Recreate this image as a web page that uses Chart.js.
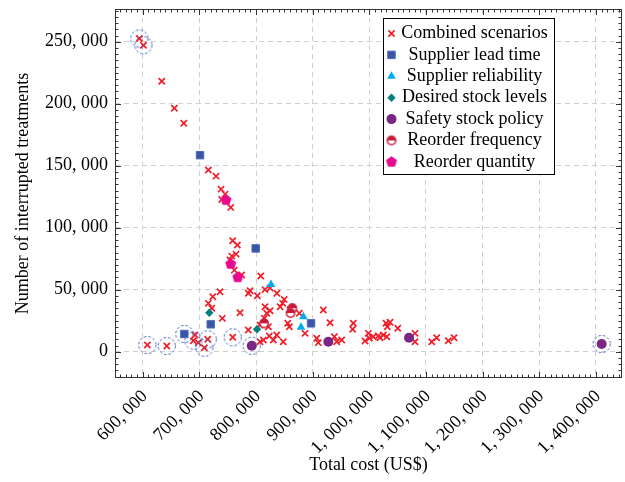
<!DOCTYPE html>
<html>
<head>
<meta charset="utf-8">
<script src="https://cdn.jsdelivr.net/npm/chart.js@4/dist/chart.umd.min.js"></script>
<style>
html,body{margin:0;padding:0;background:#fff;}
canvas{display:block;}
</style>
</head>
<body>
<canvas id="c" width="625" height="482"></canvas>
<script>
// ---------- DATA ----------
const seriesNames = [
  'Combined scenarios', 'Supplier lead time', 'Supplier reliability',
  'Desired stock levels', 'Safety stock policy', 'Reorder frequency', 'Reorder quantity'
];
const xTitle = 'Total cost (US$)';
const yTitle = 'Number of interrupted treatments';

// [total cost, interrupted treatments]
const combinedScenarios = [
  [594000,252600],[601100,247200],[633500,218200],[655800,196400],[672400,184300],
  [715800,146500],[729400,141600],[738200,131100],[745300,127100],[739400,122800],
  [755300,116400],[758800,89500],[767000,86000],[764700,78700],[757100,77100],
  [754100,73900],[761700,65800],[774700,61800],[808300,61000],[736400,48400],
  [723600,44300],[715800,39000],[721800,35000],[740500,26900],[771700,31400],
  [692300,13500],[689300,8900],[698100,7300],[714700,10000],[708700,3200],
  [758800,11600],[608100,5400],[642400,4600],[807000,8100],[823400,12700],
  [830500,9400],[836500,13500],[818900,31000],[815800,36300],[789400,49200],
  [786400,47100],[802300,45100],[815800,50100],[824700,51300],[786300,17500],
  [836800,47100],[849700,42200],[846900,39000],[842600,36300],[824700,33000],
  [860000,33600],[876400,31000],[918700,33600],[930600,23400],[971700,22900],
  [970600,18100],[886500,14800],[855900,22900],[858700,20200],[814600,26900],
  [821700,20200],[812900,9400],[848000,8100],[907100,10800],[909900,7300],
  [938200,12100],[951200,9400],[942400,8100],[992300,8600],[998200,14800],
  [1000000,10800],[1007000,12100],[1015800,12700],[1018800,11300],[1024700,13500],
  [1030700,12100],[1029400,22900],[1036500,23700],[1031700,20200],[1050100,18900],
  [1080600,14800],[1080600,8100],[1110100,8100],[1118900,11300],[1139400,8900],
  [1149400,11300],[807000,21500]
];
const supplierLeadTime = [[701100,158500],[799400,83300],[720000,22100],[673400,14300],[897100,22900]];
const supplierReliability = [[826400,54300],[883500,28200],[879400,19700]];
const desiredStockLevels = [[717500,31400],[801700,18100]];
const safetyStockPolicy = [[792400,4800],[927600,8100],[1070000,11300],[1410100,6200]];
const reorderFrequency = [[814100,22900],[864000,35200],[860900,31200]];
const reorderQuantity = [[747000,122300],[755300,70700],[767700,60000]];
// points surrounded by a dashed circle in the original
const highlighted = [
  [594000,252600],[601100,247200],[608100,5400],[642400,4600],[673400,14300],
  [689300,8900],[714700,10000],[708700,3200],[758800,11600],[792400,4800],[1410100,6200]
];

const xTicks = [600000,700000,800000,900000,1000000,1100000,1200000,1300000,1400000];
const yTicks = [0,50000,100000,150000,200000,250000];

// ---------- STYLE ----------
const FONT = '"Liberation Serif", "Times New Roman", Times, serif';
Chart.defaults.font.family = FONT;
Chart.defaults.font.size = 18;
Chart.defaults.color = '#000';

function toXY(arr){ return arr.map(p => ({x: p[0], y: p[1]})); }
function fmt(v){ return Number(v).toLocaleString('en-US').replace(/,/g, ', '); }

function makeCanvas(size, draw){
  const c = document.createElement('canvas');
  c.width = size; c.height = size;
  draw(c.getContext('2d'), size/2);
  return c;
}
const halfCircleMark = makeCanvas(12, (g, c) => {
  const col = 'rgb(200,28,58)';
  g.lineWidth = 1.5; g.strokeStyle = col; g.fillStyle = '#fff';
  g.beginPath(); g.arc(c, c, 4.2, 0, Math.PI*2); g.fill(); g.stroke();
  g.fillStyle = col;
  g.beginPath(); g.arc(c, c, 4.2, Math.PI, 2*Math.PI); g.closePath(); g.fill();
  g.strokeStyle = '#fff'; g.lineWidth = 1;
  g.beginPath(); g.moveTo(c-3, c+0.5); g.lineTo(c+3, c+0.5); g.stroke();
});
const pentagonMark = makeCanvas(14, (g, c) => {
  g.fillStyle = 'rgb(232,10,140)';
  g.beginPath();
  for (let i = 0; i < 5; i++) {
    const a = -Math.PI/2 + i*2*Math.PI/5;
    const px = c + 5.8*Math.cos(a), py = c + 5.8*Math.sin(a);
    if (i === 0) g.moveTo(px, py); else g.lineTo(px, py);
  }
  g.closePath(); g.fill();
});
const dashedCircle = makeCanvas(22, (g, c) => {
  g.strokeStyle = 'rgb(70,100,190)'; g.lineWidth = 1;
  g.setLineDash([2.6, 2]);
  g.beginPath(); g.arc(c, c, 8.6, 0, Math.PI*2); g.stroke();
});

const datasets = [
  { label: seriesNames[0], data: toXY(combinedScenarios), pointStyle: 'crossRot', pointRadius: 4.4,
    borderColor: 'rgb(240,30,40)', backgroundColor: 'rgb(240,30,40)', borderWidth: 1.7, order: 10 },
  { label: seriesNames[1], data: toXY(supplierLeadTime), pointStyle: 'rect', pointRadius: 5.3,
    borderColor: 'rgb(80,110,185)', backgroundColor: 'rgb(56,86,165)', borderWidth: 1, order: 5 },
  { label: seriesNames[2], data: toXY(supplierReliability), pointStyle: 'triangle', pointRadius: 5,
    borderColor: 'rgb(0,172,238)', backgroundColor: 'rgb(0,172,238)', borderWidth: 0, order: 5 },
  { label: seriesNames[3], data: toXY(desiredStockLevels), pointStyle: 'rectRot', pointRadius: 4.2,
    borderColor: 'rgb(0,128,125)', backgroundColor: 'rgb(0,128,125)', borderWidth: 0, order: 5 },
  { label: seriesNames[4], data: toXY(safetyStockPolicy), pointStyle: 'circle', pointRadius: 5,
    borderColor: 'rgb(122,38,132)', backgroundColor: 'rgb(122,38,132)', borderWidth: 0, order: 5 },
  { label: seriesNames[5], data: toXY(reorderFrequency), pointStyle: halfCircleMark, pointRadius: 5,
    borderColor: 'rgb(200,28,58)', backgroundColor: 'rgb(200,28,58)', borderWidth: 0, order: 4 },
  { label: seriesNames[6], data: toXY(reorderQuantity), pointStyle: pentagonMark, pointRadius: 5,
    borderColor: 'rgb(232,10,140)', backgroundColor: 'rgb(232,10,140)', borderWidth: 0, order: 4 },
  { label: 'highlighted', data: toXY(highlighted), pointStyle: dashedCircle, pointRadius: 9,
    borderColor: 'rgba(0,0,0,0)', backgroundColor: 'rgba(0,0,0,0)', borderWidth: 0, order: 0, inLegend: false }
];

// frame, inward major/minor ticks and the boxed legend
const decorPlugin = {
  id: 'decor',
  afterDraw(chart) {
    const {ctx, chartArea: a, scales: {x, y}} = chart;
    ctx.save();
    ctx.strokeStyle = '#333'; ctx.lineWidth = 1;
    ctx.beginPath();
    const xMinor = 10000, yMinor = 5000;
    for (let v = Math.ceil(x.min/xMinor)*xMinor; v <= x.max; v += xMinor) {
      const px = Math.round(x.getPixelForValue(v)) + 0.5;
      const len = (v % 100000 === 0) ? 6 : 3.5;
      ctx.moveTo(px, a.bottom); ctx.lineTo(px, a.bottom - len);
      ctx.moveTo(px, a.top); ctx.lineTo(px, a.top + len);
    }
    for (let v = Math.ceil(y.min/yMinor)*yMinor; v <= y.max; v += yMinor) {
      const py = Math.round(y.getPixelForValue(v)) + 0.5;
      const len = (v % 50000 === 0) ? 6 : 3.5;
      ctx.moveTo(a.left, py); ctx.lineTo(a.left + len, py);
      ctx.moveTo(a.right, py); ctx.lineTo(a.right - len, py);
    }
    ctx.stroke();
    ctx.strokeRect(Math.round(a.left)+0.5, Math.round(a.top)+0.5, Math.round(a.width)-1, Math.round(a.height)-1);

    // legend box
    const L = Math.round(a.right) - 238.5, T = Math.round(a.top) + 9.5, W = 171, H = 156;
    ctx.fillStyle = '#fff';
    ctx.fillRect(L, T, W, H);
    ctx.strokeStyle = '#000'; ctx.lineWidth = 1;
    ctx.strokeRect(L, T, W, H);
    ctx.font = '18px ' + FONT;
    ctx.textAlign = 'center'; ctx.textBaseline = 'middle';
    let row = 0;
    chart.data.datasets.forEach(ds => {
      if (ds.inLegend === false) return;
      const cy = T + 15 + row * 21.4;
      const mx = L + 8;
      ctx.save();
      ctx.fillStyle = ds.backgroundColor; ctx.strokeStyle = ds.borderColor; ctx.lineWidth = ds.borderWidth;
      Chart.helpers.drawPoint(ctx, {pointStyle: ds.pointStyle, radius: ds.pointRadius, borderWidth: ds.borderWidth, rotation: 0}, mx, cy);
      ctx.restore();
      ctx.fillStyle = '#000';
      ctx.fillText(ds.label, L + 91, cy);
      row++;
    });
    ctx.restore();
  }
};

new Chart(document.getElementById('c'), {
  type: 'scatter',
  data: { datasets },
  options: {
    responsive: false,
    animation: false,
    events: [],
    layout: { autoPadding: false, padding: { top: 9, right: 3, bottom: 0, left: 0 } },
    plugins: { legend: { display: false }, tooltip: { enabled: false } },
    scales: {
      x: {
        type: 'linear', min: 551000, max: 1446000,
        afterFit(s) { s.height = 104; s.paddingLeft = 0; s.paddingRight = 0; },
        afterBuildTicks(s) { s.ticks = xTicks.map(v => ({value: v})); },
        grid: { color: '#d0d0d0', lineWidth: 1, drawTicks: false },
        border: { display: false, dash: [5, 4] },
        ticks: { autoSkip: false, minRotation: 45, maxRotation: 45, padding: 8, labelOffset: 2,
                 callback: v => fmt(v), font: { size: 18 } },
        title: { display: true, text: xTitle, font: { size: 18 }, padding: { top: 0, bottom: 6 } }
      },
      y: {
        type: 'linear', min: -21200, max: 276400,
        afterFit(s) { s.width = 115; s.paddingTop = 0; s.paddingBottom = 0; },
        afterBuildTicks(s) { s.ticks = yTicks.map(v => ({value: v})); },
        grid: { color: '#d0d0d0', lineWidth: 1, drawTicks: false },
        border: { display: false, dash: [5, 4] },
        ticks: { padding: 7, callback: v => fmt(v), font: { size: 18 } },
        title: { display: true, text: yTitle, font: { size: 18 }, padding: { top: 12, bottom: 0 } }
      }
    }
  },
  plugins: [decorPlugin]
});
</script>
</body>
</html>
